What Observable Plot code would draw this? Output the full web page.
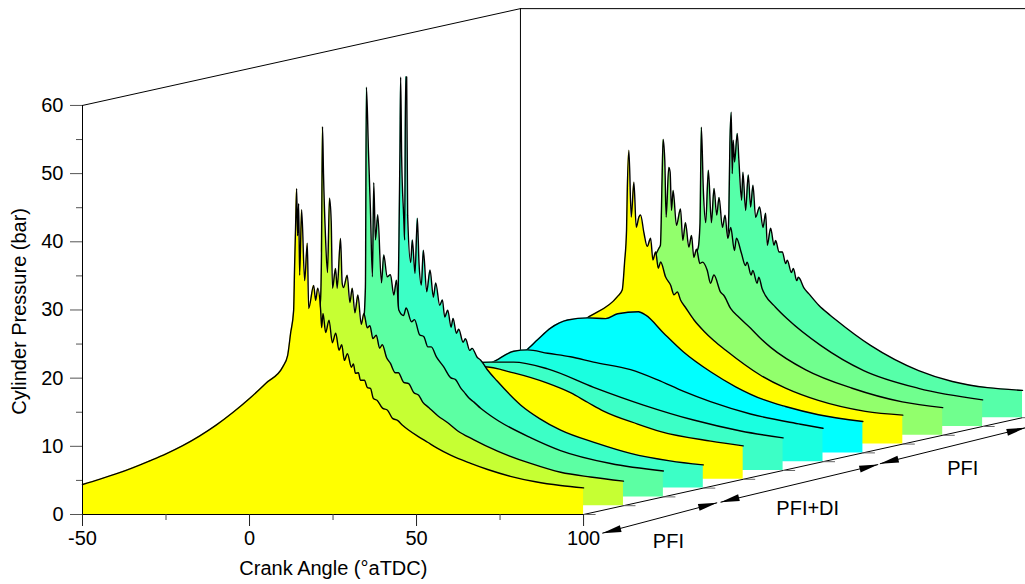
<!DOCTYPE html>
<html>
<head>
<meta charset="utf-8">
<script src="https://cdn.jsdelivr.net/npm/d3@7"></script>
<script src="https://cdn.jsdelivr.net/npm/@observablehq/plot@0.6"></script>
<style>
html,body{margin:0;padding:0;background:#fff}
svg{display:block}
</style>
</head>
<body>
<div id="chart"></div>
<script>
// Shared compression stroke: [crank angle, pressure]
const compression = [[-50,4.4],[-45,5.15],[-40,5.95],[-35,6.85],[-30,7.85],[-25,8.9],[-20,10.1],[-15,11.5],[-10,13.1],[-5,14.95],[0,17.0],[5,19.3]];
const compressionLate = [[10,21.7]];

const trace0 = [[11.4,23.3],[12.3,26.6],[13.2,29.9],[13.5,36.5],[13.8,42.4],[14.1,47.8],[14.4,40.9],[14.7,45.6],[15.0,35.1],[15.6,44.7],[16.5,34.3],[17.3,39.8],[17.7,30.2],[19.2,33.6],[19.8,31.4],[20.4,33.2],[21.3,29.9],[21.6,27.4],[22,29.5],[22.8,26.7],[23.8,28.5],[24.8,25.2],[25.8,26.6],[26.8,24.1],[27.6,24.9],[28.4,22.6],[29.3,23.6],[30.5,21.6],[31.1,22.1],[31.7,20.7],[32.6,20.8],[33.2,19.7],[34.4,19.7],[35.3,18.6],[36.2,18.5],[37.1,17.0],[38.3,16.7],[39.8,15.6],[41.3,15.3],[42.8,14.1],[44.3,13.8],[45.8,13.1],[47.6,12.4],[50.3,11.5],[53.3,10.6],[56.3,9.7],[60.2,8.7],[66.2,7.5],[71.3,6.6],[78.1,5.6],[85.6,4.8],[93.1,4.25],[100,3.9]];
const trace1 = [[9.3,30.1],[9.6,37.0],[9.9,55.6],[10.2,48.7],[10.8,39.4],[11.4,34.2],[12.0,45.1],[12.5,41.8],[12.9,31.9],[13.8,34.8],[14.3,31.9],[15.3,39.2],[15.8,32.6],[16.2,32.0],[17.3,33.8],[18.1,29.8],[18.8,31.9],[19.6,28.3],[20.5,30.9],[21.5,26.6],[22.3,28.2],[23.3,26.1],[24.1,26.4],[25.0,24.5],[26.0,25.0],[27.0,23.1],[27.8,23.6],[29.1,21.7],[30.2,20.9],[31.7,19.5],[32.6,19.5],[34.2,18.1],[35.7,17.9],[37.2,16.6],[38.7,16.2],[39.9,15.2],[41.7,14.4],[44.4,13.2],[47.3,12.2],[50.3,11.0],[55.1,9.7],[62.3,8.0],[72.2,6.2],[81.2,4.9],[90.1,4.2],[100,3.6]];
const trace2 = [[10.2,25.5],[10.8,30.7],[11.1,60.1],[11.7,50.9],[12.3,42.1],[12.9,32.3],[13.3,46.1],[13.8,37.7],[14.5,41.4],[15.6,31.4],[16.3,35.5],[17.3,32.3],[18.3,32.6],[19.3,29.6],[20.1,31.8],[20.8,27.4],[22.2,26.6],[23.0,27.7],[24.6,25.7],[25.5,26.0],[27.0,23.8],[28.3,23.5],[29.5,22.0],[30.5,22.0],[32.1,20.5],[34.2,19.1],[36.3,17.5],[37.8,17.2],[39.3,16.0],[40.3,15.4],[41.8,14.5],[43.3,13.9],[45.3,13.0],[48.3,11.9],[50.8,11.1],[60.2,8.7],[69.2,6.8],[84.2,4.9],[100,3.8]];
const trace3 = [[8.5,26.1],[8.9,36.4],[9.2,49.6],[9.4,60.3],[9.7,48.6],[10.3,40.0],[10.6,36.4],[10.9,60.3],[11.2,60.3],[11.5,40.0],[12.4,33.1],[12.9,36.4],[13.7,31.5],[14.4,39.6],[14.9,33.0],[15.6,29.8],[16.2,34.9],[17.2,28.8],[18.2,32.0],[19.2,28.0],[19.9,30.1],[21.1,26.8],[21.9,27.6],[22.6,25.1],[23.5,26.1],[24.5,23.6],[25.1,24.9],[26.1,22.7],[26.8,23.3],[28.1,21.4],[28.8,21.9],[30.1,20.2],[30.8,20.5],[32.3,19.2],[33.3,18.8],[35.3,17.4],[38.3,15.7],[45.3,12.2],[51,10.2],[57.3,8.5],[68,6.6],[78.2,5.1],[90,4.0],[100,3.4]];
const trace4 = [[22.3,16.5],[31.3,15.6],[41.4,14.1],[48.3,12.7],[53.4,11.3],[58.2,10.0],[68.4,8.1],[75.3,7.0],[90.3,5.6],[100,4.9]];
const trace5 = [[12.4,15.9],[19.3,15.9],[29.5,14.9],[43.3,12.2],[58.2,9.6],[73.2,7.4],[87.3,5.8],[100,4.78]];
const trace6 = [[1.1,14.6],[7.4,16.2],[11.6,16.4],[17.6,15.9],[24.4,15.4],[31.3,14.6],[42.4,13.5],[50.5,12],[58.3,10.3],[66.3,8.8],[78.3,7],[93.3,5.5],[100,4.9]];
const trace7 = [[-0.7,15.1],[2.6,16.6],[6.5,18.3],[11.6,19.5],[17.6,19.8],[23,19.7],[26.6,20.4],[32.8,20.7],[35,20.2],[40.3,17.6],[46.3,14.8],[54.4,11.9],[61.9,9.7],[70.3,7.8],[76.8,6.8],[86.7,5.6],[100,4.6]];
const trace8 = [[5.5,18.5],[14.5,21.6],[16.0,22.6],[16.7,26.6],[17.3,31.4],[17.5,36.8],[18.0,43.1],[18.7,33.3],[19.5,38.4],[20.2,31.8],[21.0,33.3],[21.5,33.6],[22.5,31.0],[23.5,29.0],[24.5,30.2],[25.2,27.0],[26.0,28.2],[26.8,25.8],[27.5,26.7],[29.0,24.5],[30.5,23.3],[31.5,21.9],[32.5,22.3],[33.5,21.1],[35.0,20.0],[37.5,18.2],[40.4,16.6],[43.4,15.2],[46.9,13.8],[57.4,10.1],[64.9,8.2],[74.7,6.4],[88.8,4.8],[100,4.25]];
const trace9 = [[15.0,27.4],[15.5,27.9],[16.0,37.8],[16.3,43.4],[16.8,40.3],[17.2,32.0],[18.0,39.3],[18.4,38.6],[18.8,33.0],[19.3,35.9],[20.3,30.8],[21.5,33.2],[22.2,28.6],[23.0,31.2],[24.0,27.6],[24.8,29.3],[25.5,26.1],[26.3,27.3],[27.3,25.2],[28.1,25.4],[29.5,24.2],[30.5,22.3],[31.5,23.5],[33.5,21.0],[34.5,20.5],[36.5,18.6],[39.0,17.3],[42.5,15.7],[45.5,14.2],[48.5,12.9],[59.0,9.6],[72.9,6.9],[87.9,4.9],[100,4.06]];
const trace10 = [[14.8,26.1],[15.4,29.8],[15.8,43.9],[16.4,34.6],[17.1,29.9],[17.9,37.6],[18.8,29.9],[19.6,34.9],[20.4,31.0],[21.1,33.6],[22.1,29.2],[22.9,31.0],[23.7,27.6],[24.6,29.2],[25.7,25.8],[26.3,27.6],[27.8,25.4],[29.0,23.6],[29.5,24.1],[30.7,22.2],[31.2,22.9],[32.5,21.0],[33.0,21.9],[34.0,20.2],[35.0,19.2],[38.0,17.5],[41.5,15.8],[51.5,11.9],[64.4,8.2],[80.8,5.6],[100,3.9]];
const trace11 = [[11.7,26.0],[12.1,30.4],[12.4,40.2],[12.8,44.8],[13.1,35.8],[13.4,40.7],[13.8,37.5],[14.6,41.7],[15.1,37.7],[15.9,31.9],[16.3,36.0],[17.1,30.4],[17.9,35.6],[18.6,30.9],[19.3,34.1],[20.1,29.4],[21.3,30.9],[22.3,27.9],[23.1,30.0],[23.6,25.3],[24.6,27.8],[25.6,25.3],[26.1,26.0],[27.1,24.3],[28.1,24.3],[29.1,22.6],[29.6,23.1],[30.8,21.3],[31.4,21.9],[32.4,20.1],[32.9,20.6],[34.6,19.0],[36.0,18.2],[39.0,16.5],[42.5,15.0],[44.0,14.4],[54.5,10.6],[68.9,6.9],[79.0,5.3],[100,4.0]];

const traceColors = ["#ffff00","#c6ff33","#5cffa3","#3cffc6","#ffff00","#3cffc6","#1affe0","#00ffff","#ffff00","#92ff6c","#70ff8e","#56ffa9"];

const yTicks = [0,10,20,30,40,50,60];
const yMinorTicks = [5,15,25,35,45,55];
const xTicks = [-50,0,50,100];
const xMinorTicks = [-25,25,75];

const stepX = 11.946, stepY = 1.291;   // waterfall shift per cycle
const backX = -50 + 11 * stepX, backY = 11 * stepY;
const floorEndX = 100 + 11 * stepX;
const trace_list = [trace0,trace1,trace2,trace3,trace4,trace5,trace6,trace7,trace8,trace9,trace10,trace11];

function full(i){
  const pts = trace_list[i];
  let pre;
  if (i === 0) pre = compression.concat(compressionLate);
  else if (i >= 4 && i <= 8) pre = compression.filter(d => d[0] <= -10);
  else pre = compression;
  return pre.concat(pts).map(([a,p]) => ({a, x:a + i*stepX, y1:i*stepY, y2:p + i*stepY}));
}

const marks = [
  Plot.ruleX([backX - 0.3], {y1:backY, y2:60+backY, stroke:"#000", strokeWidth:1}),
  Plot.link([0], {x1:-50, y1:60, x2:backX - 0.3, y2:60+backY, stroke:"#000", strokeWidth:1}),
  Plot.link([0], {x1:backX - 0.3, y1:60+backY, x2:233, y2:60+backY, stroke:"#000", strokeWidth:1})
];
for (let i = 11; i >= 0; i--) {
  const d = full(i);
  marks.push(Plot.areaY(d, {x:"x", y1:"y1", y2:"y2", fill:traceColors[i], curve:"monotone-x"}));
  marks.push(Plot.line(d, {x:"x", y:"y2", stroke:"#000", strokeWidth:1.4, curve:"monotone-x", strokeLinejoin:"round", strokeMiterlimit:4}));
}
// floor
marks.push(Plot.link([0], {x1:100, y1:0, x2:floorEndX, y2:backY, stroke:"#000", strokeWidth:1}));
marks.push(Plot.link(d3.range(12), {x1:i=>100+i*stepX, y1:i=>i*stepY, x2:i=>103.6+i*stepX, y2:i=>i*stepY, stroke:"#666", strokeWidth:1}));
// arrows
const head = {draw(c){ c.moveTo(0,0); c.lineTo(-3.5,19); c.lineTo(3.5,19); c.closePath(); }};
const arrowSegs = [[105.6,-2.74,140.0,1.72],[141,1.8,188.2,7.33],[188.7,7.44,232.3,12.72]];
marks.push(Plot.link(arrowSegs, {x1:d=>d[0], y1:d=>d[1], x2:d=>d[2], y2:d=>d[3], stroke:"#000", strokeWidth:1}));
const tips = [[105.6,-2.74,-104],[140.0,1.72,76],[141,1.8,-104],[188.2,7.33,76],[188.7,7.44,-104],[232.3,12.72,76]];
marks.push(Plot.dot(tips, {x:d=>d[0], y:d=>d[1], rotate:d=>d[2], symbol:head, r:5, fill:"#000", stroke:"none"}));
marks.push(Plot.text([[125.4,-3.96,"PFI"],[167.1,0.88,"PFI+DI"],[213.5,6.75,"PFI"]], {x:d=>d[0], y:d=>d[1], text:d=>d[2], fill:"#000", fontSize:20}));
// axes
marks.push(Plot.ruleY([0], {x1:-50, x2:100, stroke:"#000", strokeWidth:1}));
marks.push(Plot.ruleX([-50], {y1:0, y2:60, stroke:"#000", strokeWidth:1}));
marks.push(Plot.axisY({ticks:yTicks, tickSize:12, tickPadding:7, label:null, stroke:"#555", fill:"#000", fontSize:20, tickFormat:d=>String(d)}));
marks.push(Plot.axisY({ticks:yMinorTicks, tickSize:6, label:null, stroke:"#555", tickFormat:()=>""}));
marks.push(Plot.axisX({ticks:xTicks, tickSize:12, tickPadding:4, label:null, stroke:"#222", fill:"#000", fontSize:20, tickFormat:d=>String(d)}));
marks.push(Plot.axisX({ticks:xMinorTicks, tickSize:6, label:null, stroke:"#444", tickFormat:()=>""}));
marks.push(Plot.text(["Crank Angle (°aTDC)"], {x:25.1, y:-7.92, fill:"#000", fontSize:20}));
marks.push(Plot.text(["Cylinder Pressure (bar)"], {x:-68.9, y:29.8, rotate:-90, fill:"#000", fontSize:20}));

const chart = Plot.plot({
  width:1025, height:584,
  marginLeft:82, marginRight:3, marginTop:8, marginBottom:70,
  style:{fontFamily:"'Liberation Sans', Arial, sans-serif", fontSize:"20px", background:"#fff", overflow:"hidden"},
  x:{domain:[-50, 231.4]},
  y:{domain:[0, 74.22]},
  marks
});
document.getElementById("chart").append(chart);
</script>
</body>
</html>
